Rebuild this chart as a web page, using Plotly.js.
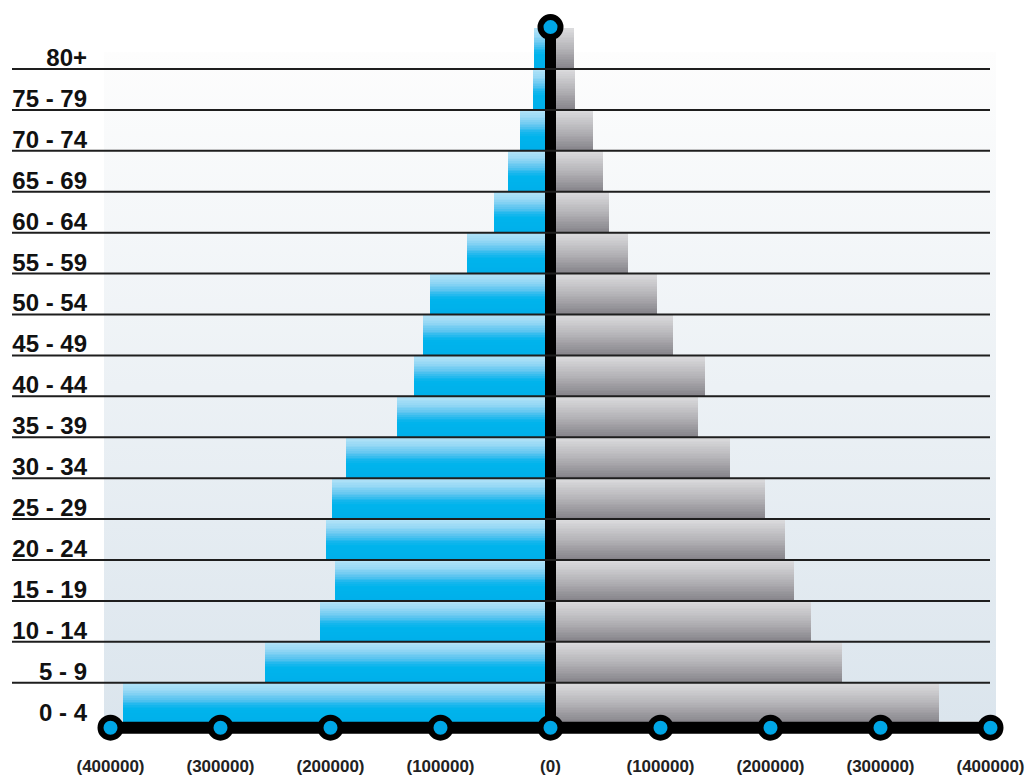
<!DOCTYPE html>
<html><head><meta charset="utf-8">
<script src="https://cdn.plot.ly/plotly-3.0.1.min.js"></script>
<style>html,body{margin:0;padding:0;background:#fff;}#chart{width:1028px;height:775px;}</style>
</head><body><div id="chart"></div>
<script>
// ---- data ----
const ageGroups = ['0 - 4','5 - 9','10 - 14','15 - 19','20 - 24','25 - 29','30 - 34','35 - 39','40 - 44','45 - 49','50 - 54','55 - 59','60 - 64','65 - 69','70 - 74','75 - 79','80+'];
const leftValues  = [389000,260000,210000,196000,204000,199000,186000,140000,124000,116000,110000,76000,51000,39000,28000,16000,15000];
const rightValues = [353000,265000,237000,221000,213000,195000,163000,134000,140000,111000,97000,70000,53000,48000,39000,22000,21000];
const xTickValues = [-400000,-300000,-200000,-100000,0,100000,200000,300000,400000];
const xTickLabels = ['(400000)','(300000)','(200000)','(100000)','(0)','(100000)','(200000)','(300000)','(400000)'];

// ---- layout geometry (pixels) ----
const W = 1028, H = 775;
const plotL = 90, plotR = 1011;
const pxPerUnit = 0.0011;
const xHalf = (plotR - plotL) / 2 / pxPerUnit;
const rowTopPx = 28, rowBotPx = 724;
const nRows = ageGroups.length;
const rowH = (rowBotPx - rowTopPx) / nRows;
const yLo = -0.85, yHi = nRows - 0.5 + 0.1;
const marginT = rowTopPx - (yHi - (nRows - 0.5)) * rowH;
const plotBotPx = rowBotPx + ((-0.5) - yLo) * rowH;
const marginB = H - plotBotPx;
const axisY = -0.5 - 4 / rowH;            // thick baseline (px 728)
const topY = nRows - 0.5 + 1 / rowH;      // top knob (px 27)
const pX = px => (px - plotL) / (plotR - plotL);
const pY = px => (plotBotPx - px) / (plotBotPx - marginT);

const pos = ageGroups.map((_, i) => i);

// ---- gradient helpers ----
function lerpStops(stops, t) {
  for (let i = 0; i < stops.length - 1; i++) {
    const a = stops[i], b = stops[i + 1];
    if (t >= a[0] && t <= b[0]) {
      const f = (t - a[0]) / (b[0] - a[0]);
      const c = a[1].map((v, j) => Math.round(v + (b[1][j] - v) * f));
      return 'rgb(' + c.join(',') + ')';
    }
  }
  const l = stops[stops.length - 1][1];
  return 'rgb(' + l.join(',') + ')';
}
// t measured from top (0) to bottom (1)
const blueStops = [[0,[182,228,248]],[0.2,[150,216,245]],[0.4,[92,197,240]],[0.55,[22,182,237]],[0.65,[0,180,236]],[1,[0,175,234]]];
const grayStops = [[0,[221,221,223]],[0.5,[181,180,184]],[1,[132,130,136]]];

const N = 24;
const traces = [];
for (let k = 0; k < N; k++) {
  const tTop = 1 - (k + 0.5) / N;
  const off = -0.5 + k / N, wid = 1 - k / N;
  traces.push({type:'bar', orientation:'h', x: leftValues.map(v => -v), y: pos,
    offset: off, width: wid, marker:{color: lerpStops(blueStops, tTop), line:{width:0}},
    hoverinfo:'skip', showlegend:false});
  traces.push({type:'bar', orientation:'h', x: rightValues, y: pos,
    offset: off, width: wid, marker:{color: lerpStops(grayStops, tTop), line:{width:0}},
    hoverinfo:'skip', showlegend:false});
}
// axis baseline and centre line
traces.push({type:'scatter', mode:'lines', x:[xTickValues[0], xTickValues[xTickValues.length-1]], y:[axisY, axisY],
  line:{color:'#000', width:12}, hoverinfo:'skip', showlegend:false, cliponaxis:false});
traces.push({type:'scatter', mode:'lines', x:[0, 0], y:[axisY, topY],
  line:{color:'#000', width:11}, hoverinfo:'skip', showlegend:false, cliponaxis:false});
// knobs
traces.push({type:'scatter', mode:'markers', x: xTickValues.concat([0]), y: xTickValues.map(() => axisY).concat([topY]),
  marker:{size:20, color:'#00a6e6', line:{color:'#000', width:6}}, hoverinfo:'skip', showlegend:false, cliponaxis:false});

// row separator lines
const shapes = [];
for (let i = 0; i < nRows - 1; i++) {
  shapes.push({type:'line', xref:'paper', yref:'y', x0: pX(12), x1: pX(990), y0: i + 0.5, y1: i + 0.5,
    line:{color:'#1e1e1e', width:2}, layer:'above'});
}

const bgSvg = "<svg xmlns='http://www.w3.org/2000/svg' width='100' height='100' preserveAspectRatio='none'>" +
  "<defs><linearGradient id='g' x1='0' y1='0' x2='0' y2='1'><stop offset='0' stop-color='#fdfdfd'/>" +
  "<stop offset='1' stop-color='#dbe5ed'/></linearGradient></defs><rect width='100' height='100' fill='url(#g)'/></svg>";

const layout = {
  width: W, height: H,
  margin: {l: plotL, r: W - plotR, t: marginT, b: marginB, pad: 0},
  paper_bgcolor: '#ffffff', plot_bgcolor: 'rgba(0,0,0,0)',
  barmode: 'overlay', bargap: 0,
  showlegend: false,
  xaxis: {range: [-xHalf, xHalf], tickvals: xTickValues, ticktext: xTickLabels,
    showgrid: false, zeroline: false, showline: false, ticks: '', automargin: false, fixedrange: true,
    ticklabelstandoff: 16, ticklabeloverflow: 'allow',
    tickfont: {family: 'Liberation Sans, Arial, sans-serif', size: 17, color: '#222', weight: 700}},
  yaxis: {range: [yLo, yHi], tickvals: pos, ticktext: ageGroups,
    showgrid: false, zeroline: false, showline: false, ticks: '', automargin: false, fixedrange: true,
    ticklabelstandoff: 2, ticklabelshift: 9,
    tickfont: {family: 'Liberation Sans, Arial, sans-serif', size: 24, color: '#111', weight: 700}},
  shapes: shapes,
  images: [{source: 'data:image/svg+xml;charset=utf-8,' + encodeURIComponent(bgSvg),
    xref: 'paper', yref: 'paper', x: pX(104), y: pY(52), sizex: pX(996) - pX(104), sizey: pY(52) - pY(722),
    xanchor: 'left', yanchor: 'top', sizing: 'stretch', layer: 'below'}]
};

Plotly.newPlot('chart', traces, layout, {displayModeBar: false, staticPlot: true});
</script>
</body></html>
